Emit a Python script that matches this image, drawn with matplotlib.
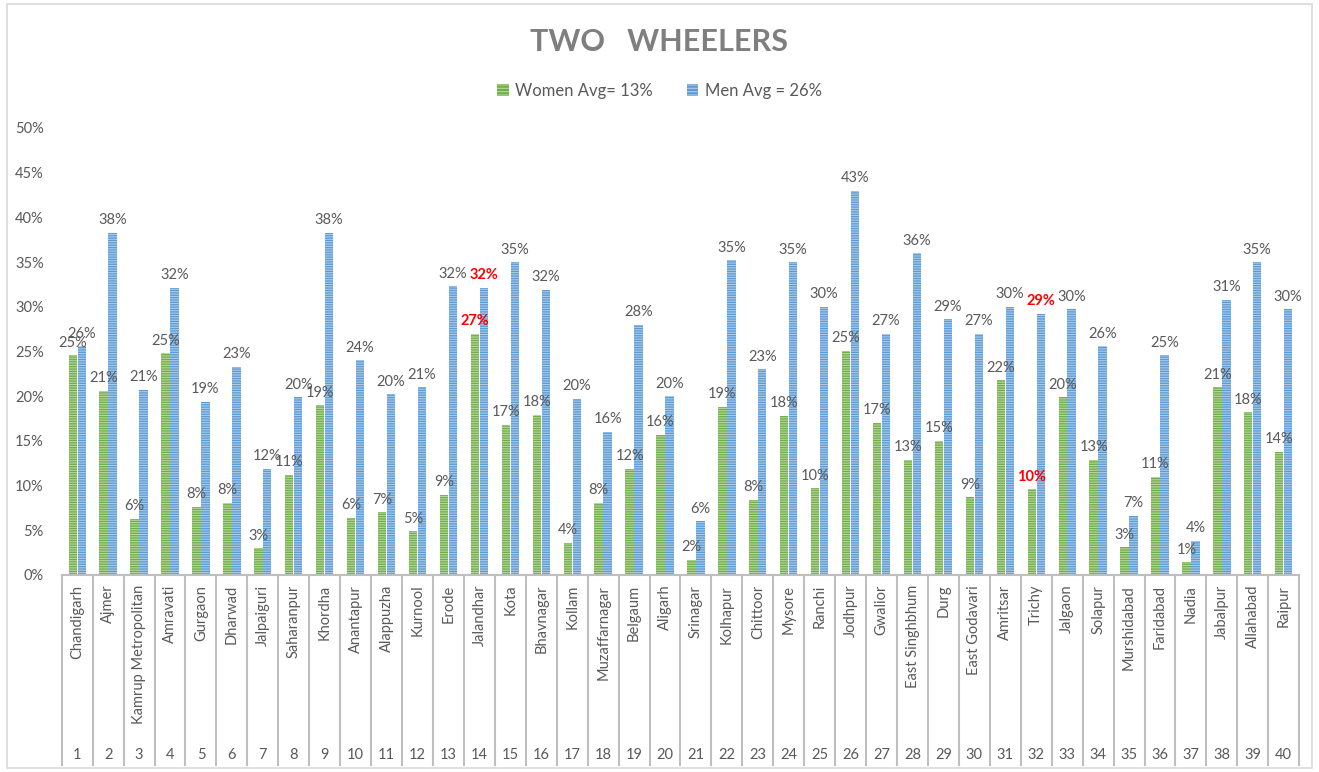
import numpy as np
import matplotlib.pyplot as plt
from matplotlib.patches import Patch, Rectangle
import matplotlib.transforms as mtransforms

plt.rcParams['font.family'] = ['Lato', 'DejaVu Sans']
plt.rcParams['hatch.linewidth'] = 0.8

cities = ['Chandigarh', 'Ajmer', 'Kamrup Metropolitan', 'Amravati', 'Gurgaon', 'Dharwad',
          'Jalpaiguri', 'Saharanpur', 'Khordha', 'Anantapur', 'Alappuzha', 'Kurnool',
          'Erode', 'Jalandhar', 'Kota', 'Bhavnagar', 'Kollam', 'Muzaffarnagar', 'Belgaum',
          'Aligarh', 'Srinagar', 'Kolhapur', 'Chittoor', 'Mysore', 'Ranchi', 'Jodhpur',
          'Gwalior', 'East Singhbhum', 'Durg', 'East Godavari', 'Amritsar', 'Trichy',
          'Jalgaon', 'Solapur', 'Murshidabad', 'Faridabad', 'Nadia', 'Jabalpur',
          'Allahabad', 'Raipur']
women = [24.6, 20.6, 6.3, 24.8, 7.6, 8.1, 3.0, 11.2, 19.0, 6.4, 7.0, 4.9, 9.0, 27.0,
         16.8, 17.9, 3.6, 8.1, 11.9, 15.7, 1.7, 18.8, 8.4, 17.8, 9.7, 25.1, 17.0, 12.9,
         15.0, 8.7, 21.8, 9.6, 19.9, 12.9, 3.1, 11.0, 1.4, 21.0, 18.2, 13.8]
men = [25.6, 38.3, 20.7, 32.1, 19.4, 23.3, 11.9, 19.9, 38.3, 24.0, 20.2, 21.0, 32.3, 32.1,
       35.0, 31.9, 19.7, 16.0, 28.0, 20.0, 6.0, 35.2, 23.0, 35.0, 30.0, 43.0, 27.0, 36.0,
       28.6, 27.0, 30.0, 29.2, 29.7, 25.6, 6.6, 24.6, 3.8, 30.8, 35.0, 29.7]
highlight = ['Jalandhar', 'Trichy']

women = np.array(women) / 100
men = np.array(men) / 100
x = np.arange(len(cities))
grey = '#595959'

fig = plt.figure(figsize=(13.19, 7.72), dpi=100)
ax = fig.add_axes([0.0468, 0.2552, 0.9382, 0.579])

w = 0.27
ax.bar(x - 0.145, women, w, color='#70AD47', edgecolor='#B5D99C', linewidth=0, hatch='-------')
ax.bar(x + 0.145, men, w, color='#5B9BD5', edgecolor='#A9CBEC', linewidth=0, hatch='-------')

for i in x:
    red = cities[i] in highlight
    for xo, v in [(-0.145, women[i]), (0.145, men[i])]:
        ax.annotate('{:.0%}'.format(v), (i + xo, v), xytext=(0, 4), textcoords='offset points',
                    ha='center', va='bottom', fontsize=10.5,
                    color='red' if red else grey, fontweight='bold' if red else 'normal')

ax.set_xlim(-0.5, len(cities) - 0.5)
ax.set_ylim(0, 0.5)
ax.set_yticks(np.arange(0, 0.51, 0.05))
ax.set_yticklabels(['{:.0%}'.format(t) for t in np.arange(0, 0.51, 0.05)])
ax.tick_params(axis='y', length=0, pad=13, labelsize=10.5, labelcolor=grey)
ax.set_xticks([])
for s in ['left', 'right', 'top']:
    ax.spines[s].set_visible(False)
ax.spines['bottom'].set_color('#BFBFBF')
ax.spines['bottom'].set_linewidth(1.5)

trans = mtransforms.blended_transform_factory(ax.transData, ax.transAxes)
for b in np.arange(-0.5, len(cities), 1):
    ax.plot([b, b], [0, -0.425], transform=trans, color='#BFBFBF', lw=1.5, clip_on=False)
for i, c in enumerate(cities):
    ax.text(i, -0.022, c, transform=trans, rotation=90, ha='center', va='top',
            fontsize=10.5, color=grey)
    ax.text(i, -0.403, str(i + 1), transform=trans, ha='center', va='center',
            fontsize=10.5, color=grey)

fig.text(0.5, 0.945, 'TWO   WHEELERS', ha='center', va='center', fontsize=22,
         fontweight='bold', color='#7F7F7F')
handles = [Patch(facecolor='#70AD47', edgecolor='#B5D99C', linewidth=0, hatch='-----'),
           Patch(facecolor='#5B9BD5', edgecolor='#A9CBEC', linewidth=0, hatch='-----')]
fig.legend(handles, ['Women Avg= 13%', 'Men Avg = 26%'], loc='center', ncol=2,
           bbox_to_anchor=(0.5, 0.882), frameon=False, fontsize=12, labelcolor=grey,
           handlelength=0.7, handleheight=0.7, handletextpad=0.4, columnspacing=2.0)

fig.patches.append(Rectangle((0.005, 0.005), 0.99, 0.99, transform=fig.transFigure,
                             fill=False, edgecolor='#D9D9D9', lw=1.2))

fig.savefig('out.png', dpi=100)
